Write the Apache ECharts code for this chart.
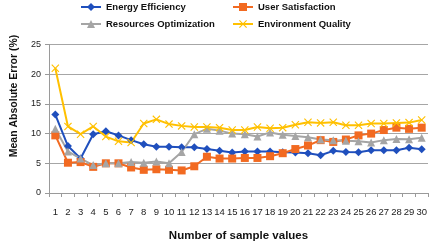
<!DOCTYPE html>
<html><head><meta charset="utf-8">
<script src="https://cdn.jsdelivr.net/npm/echarts@6/dist/echarts.min.js"></script>
<style>html,body{margin:0;padding:0;background:#fff}#c{width:438px;height:252px}</style>
</head><body><div id="c"></div>
<script>
var categories = ['1','2','3','4','5','6','7','8','9','10','11','12','13','14','15','16','17','18','19','20','21','22','23','24','25','26','27','28','29','30'];
var yTicks = [0, 5, 10, 15, 20, 25];
var energyEfficiency = [13.2, 7.9, 5.8, 9.9, 10.4, 9.7, 8.9, 8.2, 7.8, 7.8, 7.7, 7.7, 7.4, 7.1, 6.8, 7.0, 7.0, 7.0, 6.85, 6.8, 6.7, 6.35, 7.1, 6.9, 6.85, 7.2, 7.2, 7.2, 7.6, 7.35];
var userSatisfaction = [9.7, 5.1, 5.2, 4.4, 5.0, 5.0, 4.3, 3.9, 4.0, 3.9, 3.8, 4.5, 6.1, 5.8, 5.8, 5.9, 5.9, 6.2, 6.7, 7.4, 8.0, 8.9, 8.6, 9.0, 9.7, 10.0, 10.6, 11.0, 10.8, 11.0];
var resourcesOptimization = [10.8, 7.0, 5.8, 4.7, 5.0, 5.0, 5.2, 5.1, 5.3, 5.0, 6.9, 9.9, 10.8, 10.5, 10.0, 9.9, 9.5, 10.2, 9.8, 9.6, 9.4, 9.0, 8.9, 8.8, 8.7, 8.5, 8.9, 9.1, 9.05, 9.3];
var environmentQuality = [21.0, 11.2, 9.9, 11.2, 9.5, 8.7, 8.5, 11.7, 12.4, 11.6, 11.3, 11.1, 11.1, 11.0, 10.6, 10.6, 11.1, 10.9, 11.0, 11.5, 11.9, 11.8, 11.9, 11.4, 11.4, 11.7, 11.7, 11.8, 11.85, 12.3];
var seriesNames = ['Energy Efficiency', 'User Satisfaction', 'Resources Optimization', 'Environment Quality'];

var FONT = "'Liberation Sans', Arial, sans-serif";
var xMark = 'path://M0,1L1,0L5,4L9,0L10,1L6,5L10,9L9,10L5,6L1,10L0,9L4,5Z';
var colors = ['#1f4fbd', '#f26a21', '#a5a5a5', '#ffc000'];
var symbols = ['diamond', 'rect', 'triangle', xMark];
var sizes = [8, 8, 8, 8];
var values = [energyEfficiency, userSatisfaction, resourcesOptimization, environmentQuality];

var legendPos = [[78, 0], [230, 0], [78, 17], [230, 17]];
var legends = seriesNames.map(function (n, i) {
  return {
    data: [n], left: legendPos[i][0], top: legendPos[i][1], padding: 2,
    itemWidth: 20, itemHeight: 10, itemGap: 0,
    textStyle: { fontFamily: FONT, fontWeight: 'bold', fontSize: 9.5, color: '#111' }
  };
});

var chart = echarts.init(document.getElementById('c'), null, { renderer: 'canvas' });
chart.setOption({
  animation: false,
  color: colors,
  legend: legends,
  grid: { left: 49, right: 10, top: 44.5, bottom: 59, containLabel: false },
  xAxis: {
    type: 'category', data: categories, boundaryGap: true,
    name: 'Number of sample values', nameLocation: 'middle', nameGap: 37,
    nameTextStyle: { fontFamily: FONT, fontWeight: 'bold', fontSize: 11.5, color: '#111' },
    axisLine: { lineStyle: { color: '#9a9a9a', width: 1 } },
    axisTick: { show: true, alignWithLabel: false, length: 4, lineStyle: { color: '#9a9a9a' } },
    axisLabel: { fontFamily: FONT, fontSize: 9.5, color: '#222', margin: 14, interval: 0 }
  },
  yAxis: {
    type: 'value', min: yTicks[0], max: yTicks[yTicks.length - 1], interval: 5,
    axisLine: { show: true, lineStyle: { color: '#9a9a9a', width: 1 } },
    axisTick: { show: true, length: 4, lineStyle: { color: '#9a9a9a' } },
    splitLine: { lineStyle: { color: '#a6a6a6', width: 1 } },
    axisLabel: { fontFamily: FONT, fontSize: 9, color: '#222', margin: 8 }
  },
  graphic: [{
    type: 'text', x: 14, y: 96, rotation: Math.PI / 2,
    style: { text: 'Mean Absolute Error (%)', fontFamily: FONT, fontWeight: 'bold', fontSize: 10.5, fill: '#111', align: 'center', verticalAlign: 'middle' }
  }],
  series: seriesNames.map(function (n, i) {
    return {
      name: n, type: 'line', data: values[i],
      symbol: symbols[i], symbolSize: sizes[i], showSymbol: true,
      lineStyle: { width: 2, color: colors[i] },
      itemStyle: { color: colors[i] }
    };
  })
});
</script>
</body></html>
